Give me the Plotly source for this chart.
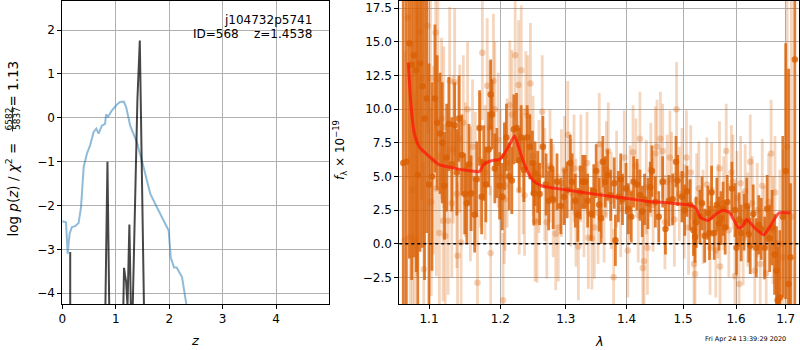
import plotly.graph_objects as go

# ---------------- Left panel: p(z) ----------------
chi2_z = [0.0, 0.01, 0.07, 0.10, 0.137, 0.18, 0.24, 0.305, 0.35, 0.40, 0.46, 0.52, 0.585, 0.636,
          0.68, 0.74, 0.80, 0.82, 0.85, 0.93, 1.02, 1.08, 1.15, 1.196, 1.27, 1.396, 1.52, 1.645,
          1.77, 1.89, 1.99, 2.03, 2.09, 2.14, 2.24, 2.32, 2.40]
chi2_logp = [-2.38, -2.36, -2.38, -3.10, -2.64, -2.49, -2.47, -2.40, -2.04, -1.12, -0.82, -0.63,
             -0.33, -0.25, -0.36, -0.18, -0.14, 0.08, 0.01, 0.17, 0.30, 0.36, 0.37, 0.24, -0.18,
             -0.56, -1.12, -1.73, -2.04, -2.34, -2.57, -3.19, -3.41, -3.41, -3.63, -4.24, -4.90]

pz_z = [0.0, 0.14, 0.148, 0.156, 0.79, 0.805, 0.845, 0.885, 0.90, 1.135, 1.142, 1.155, 1.175,
        1.193, 1.22, 1.255, 1.283, 1.318, 1.405, 1.45, 1.528, 1.54, 4.99]
pz_logp = [-30, -30, -3.06, -30, -30, -4.4, -1.0, -4.4, -30, -30, -4.3, -3.42, -3.6, -3.72, -4.3,
           -2.43, -4.3, -4.3, 0.4, 1.76, -4.3, -30, -30]

# ---------------- Right panel: spectrum ----------------
dark_wave = [1.066, 1.070, 1.074, 1.077, 1.080, 1.083, 1.085, 1.088, 1.091, 1.094, 1.097, 1.100,
             1.104, 1.108, 1.111, 1.115, 1.118, 1.121, 1.124, 1.127, 1.131, 1.135, 1.138, 1.141,
             1.145, 1.149, 1.152, 1.155, 1.158, 1.163, 1.166, 1.170, 1.173, 1.176, 1.179, 1.183,
             1.186, 1.188, 1.192, 1.195, 1.199, 1.203, 1.206, 1.209, 1.213, 1.217, 1.220, 1.224,
             1.228, 1.231, 1.235, 1.240, 1.244, 1.248, 1.250, 1.252, 1.256, 1.259, 1.264, 1.269,
             1.273, 1.277, 1.280, 1.286, 1.292, 1.297, 1.302, 1.307, 1.310, 1.315, 1.319, 1.323,
             1.327, 1.331, 1.335, 1.341, 1.345, 1.349, 1.354, 1.357, 1.360, 1.364, 1.368, 1.373,
             1.379, 1.381, 1.386, 1.390, 1.393, 1.399, 1.403, 1.408, 1.412, 1.418, 1.423, 1.427,
             1.431, 1.437, 1.441, 1.444, 1.450, 1.456, 1.463, 1.468, 1.474, 1.481, 1.487, 1.490,
             1.498, 1.503, 1.507, 1.513, 1.519, 1.522, 1.524, 1.531, 1.535, 1.540, 1.546, 1.549,
             1.553, 1.558, 1.563, 1.567, 1.571, 1.575, 1.579, 1.583, 1.592, 1.598, 1.601, 1.606,
             1.610, 1.616, 1.621, 1.625, 1.628, 1.634, 1.640, 1.645, 1.650, 1.657, 1.662, 1.667,
             1.672, 1.677, 1.681, 1.684, 1.688, 1.694, 1.700, 1.706, 1.710, 1.719]
dark_flux = [6.0, 6.1, 14.9, 13.3, 14.0, 12.9, 5.1, 13.4, 11.7, 9.3, 10.8, 4.4,
             5.0, 10.8, 9.0, 8.2, 7.5, 4.3, 6.4, 8.9, 5.9, 8.8, 5.3, 9.3,
             6.6, 3.7, 3.0, 5.9, 3.75, 2.15, 4.8, 8.6, 3.5, 6.0, 4.4, 7.0,
             11.1, 9.6, 5.6, 6.0, 4.3, 3.5, 6.5, 7.9, 5.0, 4.7, 8.5, 8.6,
             6.2, 7.9, 5.5, 7.9, 7.2, 6.0, 3.75, 5.2, 4.6, 3.7, 7.2, 4.4,
             3.2, 5.6, 3.3, 4.6, 2.8, 3.5, 4.0, 6.0, 4.6, 3.2, 2.15, 3.8,
             4.6, 4.6, 3.2, 2.2, 3.9, 5.4, 2.9, 1.9, 6.1, 4.6, 5.1, 3.6,
             4.5, 0.25, 3.5, 4.8, 3.3, 4.1, 2.6, 2.0, 4.6, 4.4, 3.6, 2.4,
             3.3, 3.0, 4.2, 5.4, 3.1, 2.0, 4.6, 1.1, 3.2, 3.3, 6.1, 4.7,
             3.5, 2.5, 3.9, 2.9, 1.0, 0.5, 1.6, 2.0, 3.0, 0.6, 2.3, 0.8,
             3.8, 0.8, 2.9, 1.5, 1.9, 2.6, 1.2, 3.1, 4.1, 2.5, -0.3, 1.8,
             0.8, 1.6, 2.8, 0.7, -0.15, 2.2, -0.3, 1.4, 1.1, -0.3, 2.6, 0.4,
             1.2, -0.8, -2.0, -4.2, -4.0, 2.0, 5.4, -3.0, -1.0, 13.7]
dark_err = [18, 18, 16, 16, 15, 15, 15, 14, 12, 12, 10, 9,
            7, 5.5, 5, 4.5, 4.5, 4, 4, 3.5, 3.5, 3.2, 3.2, 3.2,
            3, 3, 3, 3, 2.8, 2.8, 2.8, 2.8, 2.8, 2.8, 2.8, 2.8,
            2.6, 2.6, 2.6, 2.6, 2.5, 2.5, 2.5, 2.5, 2.5, 2.5, 2.6, 2.6,
            2.4, 2.4, 2.4, 2.4, 2.4, 2.4, 2.4, 2.4, 2.3, 2.3, 2.3, 2.3,
            2.2, 2.2, 2.2, 2.1, 2.1, 2.1, 2.1, 2.1, 2.1, 2.0, 2.0, 2.0,
            2.0, 2.0, 2.0, 2.0, 2.0, 2.0, 2.0, 1.9, 1.9, 1.9, 1.9, 1.9,
            1.9, 1.9, 1.9, 1.9, 1.9, 1.9, 1.9, 1.9, 1.9, 1.9, 1.9, 1.9,
            1.9, 1.9, 1.9, 1.9, 1.9, 1.9, 1.9, 1.9, 1.9, 1.9, 1.9, 1.9,
            1.9, 1.9, 1.9, 1.9, 1.9, 1.9, 1.9, 2.0, 2.0, 2.0, 2.0, 2.0,
            2.0, 2.0, 2.0, 2.0, 2.0, 2.0, 2.0, 2.0, 2.0, 2.0, 2.0, 2.0,
            2.1, 2.1, 2.1, 2.1, 2.1, 2.2, 2.2, 2.2, 2.3, 2.3, 2.5, 2.5,
            2.8, 3.0, 3.3, 4.0, 5.0, 6.0, 9.5, 16, 5.5, 22]

light_wave = [1.068, 1.072, 1.075, 1.078, 1.081, 1.084, 1.088, 1.090, 1.093, 1.098, 1.102, 1.103,
              1.106, 1.109, 1.110, 1.112, 1.114, 1.117, 1.119, 1.120, 1.122, 1.126, 1.128, 1.131,
              1.133, 1.135, 1.138, 1.139, 1.142, 1.144, 1.147, 1.150, 1.153, 1.157, 1.160, 1.164,
              1.167, 1.171, 1.174, 1.178, 1.181, 1.185, 1.186, 1.190, 1.192, 1.197, 1.200, 1.204,
              1.206, 1.207, 1.210, 1.214, 1.217, 1.222, 1.227, 1.228, 1.231, 1.234, 1.236, 1.238,
              1.241, 1.245, 1.249, 1.252, 1.255, 1.258, 1.263, 1.267, 1.270, 1.275, 1.280, 1.284,
              1.288, 1.293, 1.298, 1.303, 1.308, 1.313, 1.316, 1.320, 1.324, 1.329, 1.334, 1.336,
              1.342, 1.346, 1.352, 1.354, 1.358, 1.362, 1.366, 1.369, 1.374, 1.378, 1.383, 1.390,
              1.396, 1.402, 1.406, 1.411, 1.416, 1.420, 1.423, 1.428, 1.430, 1.434, 1.436, 1.442,
              1.446, 1.450, 1.453, 1.459, 1.463, 1.467, 1.471, 1.476, 1.479, 1.484, 1.488, 1.493,
              1.498, 1.502, 1.506, 1.510, 1.514, 1.520, 1.522, 1.525, 1.529, 1.537, 1.544, 1.550,
              1.553, 1.561, 1.565, 1.568, 1.569, 1.576, 1.581, 1.586, 1.591, 1.594, 1.598, 1.602,
              1.606, 1.609, 1.614, 1.618, 1.623, 1.628, 1.632, 1.637, 1.642, 1.648, 1.652, 1.656,
              1.660, 1.665, 1.670, 1.674, 1.678, 1.682, 1.688, 1.695, 1.703, 1.712]
light_flux = [0.3, 16.8, 0.5, 4.0, 0.25, 7.6, 15.7, 12.3, -1.9, 16.2, 12.3, 3.1,
              6.2, 15.7, 4.1, 12.2, 0.8, 9.3, 1.7, 8.65, 0.6, 1.7, 12.1, 3.0,
              7.0, 12.0, 3.7, -0.9, 7.8, 0.1, 9.0, 5.5, 10.0, 3.7, 7.2, 4.8,
              -2.9, 6.2, 14.2, 5.3, 11.75, 8.6, -0.7, 12.1, 10.0, 7.7, 5.0, -4.2,
              3.3, 4.3, 6.0, 10.3, 9.6, 14.0, 11.8, 4.0, 12.9, 5.2, 3.6, 9.8,
              9.5, 11.9, 6.5, 1.7, 1.6, 5.0, 9.8, 4.4, 1.6, 5.8, 3.2, 0.75,
              1.2, 4.5, 5.5, 8.1, 3.8, 5.6, 2.3, -0.2, 5.6, 2.8, 6.0, 0.45,
              0.4, 1.2, 2.3, 7.4, 4.0, 2.2, 5.5, 6.9, 3.2, -2.5, 4.8, 2.6,
              6.4, -0.5, 3.8, 6.8, 5.8, 2.1, 7.8, -1.8, -1.3, 4.2, -0.3, 5.5,
              2.9, 6.7, 7.2, 7.8, 6.9, 1.6, 4.6, 6.4, 4.8, 1.8, 10.0, 3.7,
              5.1, 2.4, 6.4, 1.2, 5.3, -1.5, -2.25, 3.2, 4.1, 2.0, 4.4, -0.3,
              4.0, -0.5, 2.4, 5.6, -1.7, 3.0, 6.9, 1.0, 5.3, 4.6, -2.4, 3.4,
              -3.0, 4.5, 0.4, 3.9, 1.8, 6.1, 3.0, -2.0, 2.5, -1.5, 4.3, 0.8,
              -2.2, 3.1, 6.7, 1.0, 3.8, -4.2, 0.0, -1.0, 7.2, 2.0]
light_err = [14, 12, 12, 11, 11, 10, 9, 9, 8, 8, 7, 7,
             7, 6.5, 6.5, 6, 6, 6, 6, 6, 6, 5.5, 5.5, 5.5,
             5.5, 5.5, 5.5, 5.5, 5.5, 5.5, 5, 5, 5, 5, 5, 5,
             5, 5, 5, 5, 5, 5, 5, 5, 5, 5, 5, 5,
             4.8, 4.8, 4.8, 4.8, 4.8, 4.8, 4.8, 4.8, 4.8, 4.5, 4.5, 4.5,
             4.5, 4.5, 4.5, 4.5, 4.5, 4.2, 4.2, 4.2, 4.2, 4.2, 4.2, 4.2,
             4.0, 4.0, 4.0, 4.0, 4.0, 4.0, 4.0, 4.0, 4.0, 3.8, 3.8, 3.8,
             3.8, 3.8, 3.8, 3.8, 3.6, 3.6, 3.6, 3.6, 3.6, 3.6, 3.6, 3.6,
             3.5, 3.5, 3.5, 3.5, 3.5, 3.5, 3.5, 3.5, 3.5, 3.5, 3.5, 3.5,
             3.5, 3.5, 3.5, 3.5, 3.5, 3.5, 3.5, 3.5, 3.5, 3.5, 3.5, 3.5,
             3.5, 3.5, 3.5, 3.5, 3.5, 3.5, 3.5, 3.5, 3.5, 3.5, 3.5, 3.5,
             3.5, 3.5, 3.5, 3.5, 3.5, 3.5, 3.5, 3.5, 3.5, 3.5, 3.5, 3.5,
             3.5, 3.5, 3.5, 3.5, 3.5, 3.5, 3.5, 3.5, 3.5, 3.5, 3.5, 3.5,
             3.5, 3.6, 4.0, 4.0, 4.2, 4.5, 5.5, 8.0, 14, 22]

model_wave = [1.0725, 1.0765, 1.0805, 1.087, 1.100, 1.113, 1.135, 1.156, 1.170, 1.176, 1.186,
              1.200, 1.212, 1.221, 1.227, 1.237, 1.250, 1.264, 1.298, 1.352, 1.408, 1.437, 1.467,
              1.503, 1.515, 1.524, 1.532, 1.546, 1.560, 1.575, 1.588, 1.605, 1.613, 1.621, 1.637,
              1.655, 1.670, 1.686, 1.710]
model_flux = [13.45, 10.0, 8.2, 7.2, 6.5, 5.9, 5.6, 5.43, 5.37, 5.9, 6.15, 6.3, 7.2, 8.0, 7.2,
              5.75, 4.64, 4.27, 4.02, 3.65, 3.32, 3.14, 3.07, 2.92, 2.85, 2.6, 1.95, 1.73, 2.16,
              2.48, 2.3, 1.17, 1.3, 1.79, 1.17, 0.67, 1.41, 2.28, 2.28]

x_ticks_lam = [1.1, 1.2, 1.3, 1.4, 1.5, 1.6, 1.7]
x_tick_text = ["1.1", "1.2", "1.3", "1.4", "1.5", "1.6", "1.7"]

obj_name = "j104732p5741"
obj_info = "ID=568\u00a0\u00a0\u00a0\u00a0z=1.4538"
date_text = "Fri Apr 24 13:39:29 2020"

FONT = "DejaVu Sans"
W, H = 800, 350

fig = go.Figure()

fig.add_trace(go.Scatter(x=chi2_z, y=chi2_logp, mode="lines",
                         line=dict(color="rgba(31,119,180,0.5)", width=2),
                         xaxis="x", yaxis="y", showlegend=False))
fig.add_trace(go.Scatter(x=pz_z, y=pz_logp, mode="lines",
                         line=dict(color="rgba(0,0,0,0.72)", width=2),
                         xaxis="x", yaxis="y", showlegend=False))

fig.add_trace(go.Scatter(x=light_wave, y=light_flux, mode="markers",
                         marker=dict(color="rgba(217,95,2,0.28)", size=6.5, line=dict(width=0)),
                         error_y=dict(type="data", array=light_err, color="rgba(217,95,2,0.26)",
                                      thickness=2.8, width=0),
                         xaxis="x2", yaxis="y2", showlegend=False))
fig.add_trace(go.Scatter(x=dark_wave, y=dark_flux, mode="markers",
                         marker=dict(color="rgba(217,95,2,0.8)", size=6.5, line=dict(width=0)),
                         error_y=dict(type="data", array=dark_err, color="rgba(217,95,2,0.8)",
                                      thickness=2.8, width=0),
                         xaxis="x2", yaxis="y2", showlegend=False))
fig.add_trace(go.Scatter(x=model_wave, y=model_flux, mode="lines",
                         line=dict(color="rgba(255,20,10,0.72)", width=3, shape="spline", smoothing=0.6),
                         xaxis="x2", yaxis="y2", showlegend=False))

fig.add_shape(type="line", xref="x2 domain", x0=0, x1=1, yref="y2", y0=0, y1=0,
              line=dict(color="black", width=1.6, dash="dot"))

ax_common = dict(showline=True, linecolor="black", linewidth=1, mirror=True,
                 ticks="outside", ticklen=4, tickcolor="black",
                 showgrid=True, gridcolor="#b0b0b0", gridwidth=1, zeroline=False,
                 tickfont=dict(family=FONT, size=12, color="black"), automargin=False)

ydom = [(H - 304) / H, (H - 1) / H]
fig.update_layout(
    width=W, height=H, margin=dict(l=0, r=0, t=0, b=0),
    paper_bgcolor="white", plot_bgcolor="white",
    font=dict(family=FONT, size=12, color="black"),
    xaxis=dict(domain=[62.3 / W, 329 / W], range=[0, 4.99], dtick=1, tick0=0, **ax_common),
    yaxis=dict(domain=ydom, range=[-4.244, 2.661], dtick=1, tick0=0, **ax_common),
    xaxis2=dict(domain=[399.3 / W, 799.3 / W], type="log",
                range=[0.02565, 0.23766], tickvals=x_ticks_lam, ticktext=x_tick_text,
                anchor="y2", **ax_common),
    yaxis2=dict(domain=ydom, range=[-4.48, 18.04], dtick=2.5, tick0=0, tickformat=".1f",
                anchor="x2", **ax_common),
)

def px(x, y):
    return x / W, 1 - y / H

ann = []
def add_text(text, x, y, size=12, angle=0, xanchor="center", yanchor="middle"):
    xx, yy = px(x, y)
    ann.append(dict(text=text, x=xx, y=yy, xref="paper", yref="paper", showarrow=False,
                    textangle=angle, xanchor=xanchor, yanchor=yanchor,
                    font=dict(family=FONT, size=size, color="black")))

add_text(obj_name, 314, 20, 12, xanchor="right")
add_text(obj_info, 314, 34.5, 12, xanchor="right")
add_text("<i>z</i>", 195.5, 340, 13)
add_text("<i>λ</i>", 599, 341, 13)
add_text("<i>f</i><sub>λ</sub> × 10<sup>−19</sup>", 340, 150, 12, angle=-90)
add_text(date_text, 788, 339, 6.5, xanchor="right")
# left y-axis label: log p(z) / chi^2 = 6582/5837 = 1.13
add_text("log <i>p</i>(<i>z</i>) / <i>χ</i><sup>2</sup> =", 12.5, 190, 13.5, angle=-90)
add_text("6582", 8.5, 119, 9, angle=-90)
add_text("5837", 17, 119, 9, angle=-90)
add_text("= 1.13", 12.5, 84, 13.5, angle=-90)
fig.update_layout(annotations=ann)
fig.add_shape(type="line", xref="paper", yref="paper", x0=12.5 / W, x1=12.5 / W,
              y0=1 - 106.5 / H, y1=1 - 131.5 / H, line=dict(color="black", width=0.8))

fig.write_html("out.html", config={"displayModeBar": False},
               post_script="document.body.style.margin='0px';")
